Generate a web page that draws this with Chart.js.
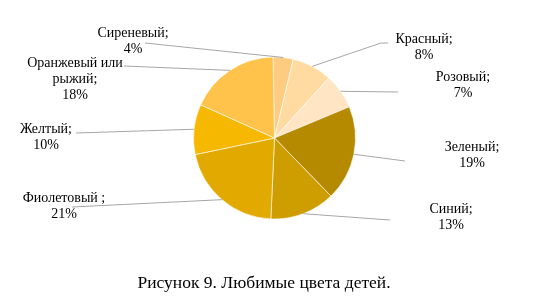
<!DOCTYPE html>
<html>
<head>
<meta charset="utf-8">
<script src="https://cdn.jsdelivr.net/npm/chart.js@4"></script>
<style>
html,body{margin:0;padding:0;background:#fff;}
#wrap{width:548px;height:300px;}
</style>
</head>
<body>
<div id="wrap"><canvas id="c" width="548" height="300"></canvas></div>
<script>
const categories = ["Сиреневый", "Красный", "Розовый", "Зеленый", "Синий", "Фиолетовый ", "Желтый", "Оранжевый или рыжий"];
const values = [4, 8, 7, 19, 13, 21, 10, 18];
const colors = ["#FECC80", "#FFDBA1", "#FFE5C3", "#B68A00", "#CE9D00", "#E2AA00", "#F6B800", "#FFC34B"];
const labelLines = [
  ["Сиреневый;", "4%"],
  ["Красный;", "8%"],
  ["Розовый;", "7%"],
  ["Зеленый;", "19%"],
  ["Синий;", "13%"],
  ["Фиолетовый ;", "21%"],
  ["Желтый;", "10%"],
  ["Оранжевый или", "рыжий;", "18%"]
];
const caption = "Рисунок 9. Любимые цвета детей.";

// label placement (layout only)
const labelLayout = [
  {tx: 133, ty: 33, lx: 145, ly: 43},
  {tx: 424, ty: 39, lx: 388, ly: 43, ex: 381, ey: 43},
  {tx: 463, ty: 77, lx: 398, ly: 92},
  {tx: 472, ty: 147, lx: 405, ly: 161},
  {tx: 451, ty: 209, lx: 390, ly: 220},
  {tx: 64, ty: 198, lx: 72, ly: 207},
  {tx: 46, ty: 129, lx: 76, ly: 133},
  {tx: 75, ty: 63, lx: 124, ly: 66}
];

const labelPlugin = {
  id: 'pieLabels',
  afterDatasetsDraw(chart) {
    const ctx = chart.ctx;
    const meta = chart.getDatasetMeta(0);
    ctx.save();
    meta.data.forEach((arc, i) => {
      const L = labelLayout[i];
      const mid = (arc.startAngle + arc.endAngle) / 2;
      const px = arc.x + Math.cos(mid) * arc.outerRadius;
      const py = arc.y + Math.sin(mid) * arc.outerRadius;
      ctx.beginPath();
      ctx.strokeStyle = '#A6A6A6';
      ctx.lineWidth = 1;
      ctx.moveTo(L.lx, L.ly);
      if (L.ex !== undefined) ctx.lineTo(L.ex, L.ey);
      ctx.lineTo(px, py);
      ctx.stroke();
      ctx.fillStyle = '#000';
      ctx.font = '14px "Liberation Serif", "Times New Roman", serif';
      ctx.textAlign = 'center';
      ctx.textBaseline = 'middle';
      labelLines[i].forEach((t, k) => {
        ctx.fillText(t, L.tx, L.ty + k * 16);
      });
    });
    // caption
    ctx.font = '17.5px "Liberation Serif", "Times New Roman", serif';
    ctx.fillStyle = '#000';
    ctx.textAlign = 'center';
    ctx.textBaseline = 'middle';
    ctx.fillText(caption, 264, 283);
    ctx.restore();
  }
};

new Chart(document.getElementById('c'), {
  type: 'pie',
  data: {
    labels: categories,
    datasets: [{
      data: values,
      backgroundColor: colors,
      borderColor: 'rgba(255,255,255,0.6)',
      borderWidth: 1
    }]
  },
  options: {
    responsive: false,
    animation: false,
    rotation: -1,
    layout: {padding: {top: 56.5, bottom: 80.5, left: 100, right: 99}},
    plugins: {
      legend: {display: false},
      tooltip: {enabled: false},
      title: {display: false}
    }
  },
  plugins: [labelPlugin]
});
</script>
</body>
</html>
